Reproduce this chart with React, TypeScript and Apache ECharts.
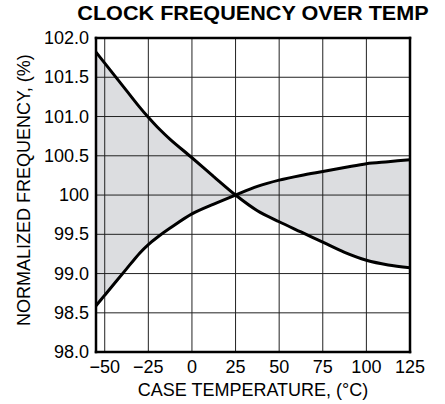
import React, { useEffect, useRef } from "react";
import * as echarts from "echarts";

const titleText = "CLOCK FREQUENCY OVER TEMP";
const xAxisTitle = "CASE TEMPERATURE, (°C)";
const yAxisTitle = "NORMALIZED FREQUENCY, (%)";

const temps = [-55, -50, -37.5, -30, -25, -20, -12.5, 0, 12.5, 25, 37.5, 50, 62.5, 75, 87.5, 100, 112.5, 125];
const freqFalling = [101.82, 101.68, 101.33, 101.12, 100.99, 100.87, 100.71, 100.475, 100.235, 100.0, 99.8, 99.66, 99.53, 99.4, 99.27, 99.17, 99.11, 99.075];
const freqRising = [98.59, 98.725, 99.06, 99.26, 99.37, 99.46, 99.58, 99.76, 99.885, 100.0, 100.11, 100.19, 100.25, 100.3, 100.35, 100.4, 100.425, 100.45];

const xMin = -55;
const xMax = 125;
const yMin = 98;
const yMax = 102;
const xTickValues = [-50, -25, 0, 25, 50, 75, 100, 125];
const xTickLabels = ["−50", "−25", "0", "25", "50", "75", "100", "125"];
const yTickValues = [98, 98.5, 99, 99.5, 100, 100.5, 101, 101.5, 102];
const yTickLabels = ["98.0", "98.5", "99.0", "99.5", "100", "100.5", "101.0", "101.5", "102.0"];

const FONT = '"Liberation Sans", Arial, Helvetica, sans-serif';

export default function App() {
  const ref = useRef<HTMLDivElement>(null);

  useEffect(() => {
    if (!ref.current) return;
    const chart = echarts.init(ref.current, undefined, { renderer: "svg" });

    const falling = temps.map((t, i) => [t, freqFalling[i]]);
    const rising = temps.map((t, i) => [t, freqRising[i]]);

    const gridSeriesBase = {
      type: "line",
      symbol: "none",
      silent: true,
      lineStyle: { color: "#222", width: 1 },
      z: 5,
    };
    const vGrid = xTickValues
      .filter((v) => v > xMin && v < xMax)
      .map((v) => ({ ...gridSeriesBase, data: [[v, yMin], [v, yMax]] }));
    const hGrid = yTickValues
      .filter((v) => v > yMin && v < yMax)
      .map((v) => ({ ...gridSeriesBase, data: [[xMin, v], [xMax, v]] }));

    const frameBase = {
      type: "line",
      symbol: "none",
      silent: true,
      clip: false,
      lineStyle: { color: "#000", width: 2.5, cap: "square" },
      z: 12,
    };
    const frame = [
      { ...frameBase, data: [[xMin, yMin], [xMin, yMax]] },
      { ...frameBase, data: [[xMax, yMin], [xMax, yMax]] },
      { ...frameBase, data: [[xMin, yMin], [xMax, yMin]] },
      { ...frameBase, data: [[xMin, yMax], [xMax, yMax]] },
    ];

    chart.setOption({
      animation: false,
      graphic: [
        {
          type: "text",
          x: 253,
          y: 3,
          scaleX: 1.03,
          style: {
            text: titleText,
            fontFamily: FONT,
            fontWeight: "bold",
            fontSize: 21,
            fill: "#000",
            textAlign: "center",
            textVerticalAlign: "top",
          },
        },
      ],
      grid: {
        left: 96,
        right: 35,
        top: 38,
        bottom: 51,
      },
      xAxis: {
        type: "value",
        min: xMin,
        max: xMax,
        axisLine: { show: false },
        axisTick: { show: false, customValues: xTickValues },
        splitLine: { show: false },
        axisLabel: {
          customValues: xTickValues,
          margin: 6,
          fontSize: 18,
          fontFamily: FONT,
          color: "#000",
          formatter: (v: number) => {
            const idx = xTickValues.findIndex((x) => Math.abs(x - v) < 1e-6);
            return idx >= 0 ? xTickLabels[idx] : "";
          },
        },
        name: xAxisTitle,
        nameLocation: "middle",
        nameGap: 28,
        nameTextStyle: { fontSize: 18, fontFamily: FONT, color: "#000" },
      },
      yAxis: {
        type: "value",
        min: yMin,
        max: yMax,
        interval: 0.5,
        axisLine: { show: false },
        axisTick: { show: false },
        splitLine: { show: false },
        axisLabel: {
          margin: 7,
          fontSize: 18,
          fontFamily: FONT,
          color: "#000",
          formatter: (v: number) => {
            const idx = yTickValues.findIndex((y) => Math.abs(y - v) < 1e-6);
            return idx >= 0 ? yTickLabels[idx] : "";
          },
        },
        name: yAxisTitle,
        nameLocation: "middle",
        nameGap: 58,
        nameTextStyle: { fontSize: 18, fontFamily: FONT, color: "#000", padding: [0, 0, 0, 10] },
      },
      series: [
        {
          type: "custom",
          name: "spread",
          silent: true,
          z: 2,
          data: [[25, 100]],
          renderItem: (_params: any, api: any) => {
            const upper = temps.map((t, i) => api.coord([t, Math.max(freqFalling[i], freqRising[i])]));
            const lowerPts = temps.map((t, i) => api.coord([t, Math.min(freqFalling[i], freqRising[i])])).reverse();
            return {
              type: "polygon",
              shape: { points: upper.concat(lowerPts) },
              style: { fill: "#dcdde0" },
            };
          },
        },
        ...vGrid,
        ...hGrid,
        {
          type: "line",
          name: "falling",
          data: falling,
          smooth: 0.3,
          symbol: "none",
          lineStyle: { color: "#000", width: 3 },
          z: 10,
        },
        {
          type: "line",
          name: "rising",
          data: rising,
          smooth: 0.3,
          symbol: "none",
          lineStyle: { color: "#000", width: 3 },
          z: 10,
        },
        ...frame,
      ],
    });

    return () => chart.dispose();
  }, []);

  return <div ref={ref} style={{ width: 445, height: 404, position: "absolute", left: 0, top: 0 }} />;
}
